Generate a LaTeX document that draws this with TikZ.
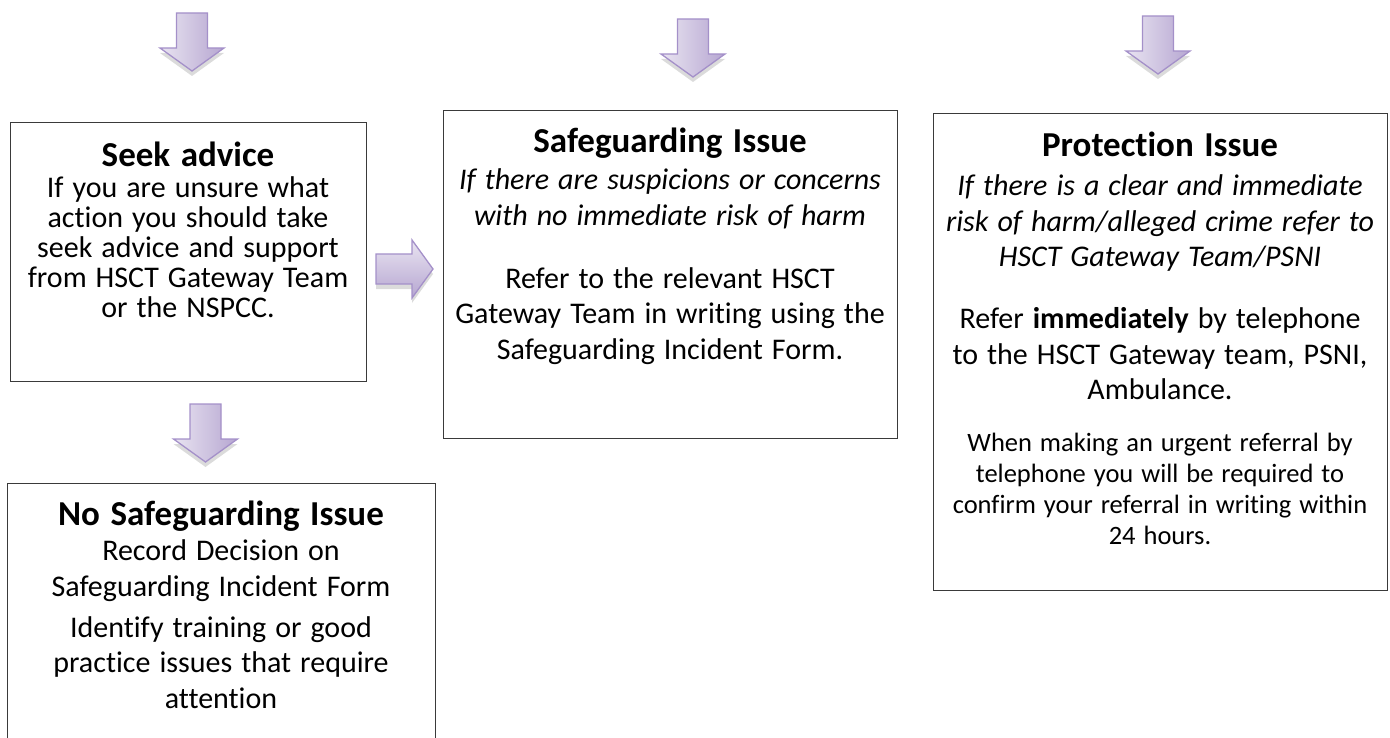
\documentclass[tikz,border=0pt]{standalone}
\usepackage{fontspec}
\setmainfont{Carlito}[Ligatures=NoCommon]
\usetikzlibrary{shadows}
\definecolor{arrA}{HTML}{E9E4F1}
\definecolor{arrB}{HTML}{B6A6D1}
\definecolor{arrline}{HTML}{A490C9}
\definecolor{boxline}{HTML}{3A3A3A}
\tikzset{
  boxstyle/.style={draw=boxline, line width=1.4pt, fill=white, inner sep=0pt, anchor=north west},
  arrowshadow/.style={drop shadow={shadow xshift=0pt, shadow yshift=-5pt, opacity=0.2, fill=black!70}},
  blockarrow/.style={draw=arrline, line width=1.3pt, left color=arrA, right color=arrB, arrowshadow},
  blockarrowR/.style={draw=arrline, line width=1.3pt, top color=arrA, bottom color=arrB, arrowshadow},
  txt/.style={anchor=base, inner sep=0pt, align=center, text width=#1},
  downarr/.pic={\path[blockarrow] (-15.5,0) -- (15.5,0) -- (15.5,35) -- (32,35) -- (0,58) -- (-32,35) -- (-15.5,35) -- cycle;}
}
\newcommand\wsp{\spaceskip=.3em\relax\xspaceskip=.3em\relax}
\newcommand\ttlfont{\fontsize{35}{36}\selectfont\bfseries\wsp}
\newcommand\bodyfont{\fontsize{30}{35.5}\selectfont\wsp}
\newcommand\tightfont{\fontsize{30}{30}\selectfont\wsp}
\newcommand\smallfont{\fontsize{26.5}{31}\selectfont\wsp}
\begin{document}
\begin{tikzpicture}[x=1pt,y=-1pt]
\useasboundingbox (0,0) rectangle (1390,738);
\clip (0,0) rectangle (1390,738);

% top arrows
\pic at (192,13) {downarr};
\pic at (693,19) {downarr};
\pic at (1158,16) {downarr};

% boxes
\node[boxstyle, minimum width=356pt, minimum height=259pt] (b1) at (10,122) {};
\node[boxstyle, minimum width=454pt, minimum height=328pt] (b2) at (443,110) {};
\node[boxstyle, minimum width=454pt, minimum height=477pt] (b3) at (933,113) {};
\node[boxstyle, minimum width=428pt, minimum height=290pt] (b4) at (7,483) {};

% connector arrows
\pic at (205.5,404) {downarr};
\path[blockarrowR] (376,254) -- (412,254) -- (412,240) -- (433,269) -- (412,298) -- (412,284) -- (376,284) -- cycle;

% texts
\node[txt=350pt] (t1) at (188,167) {{\ttlfont Seek advice\par}
  \tightfont\vspace{1pt}If you are unsure what\\action you should take\\seek advice and support\\from HSCT Gateway Team\\or the NSPCC.\par};

\node[txt=450pt] (t2) at (670,153) {{\ttlfont Safeguarding Issue\par}
  \bodyfont\vspace{1.5pt}\itshape\wsp If there are suspicions or concerns\\with no immediate risk of harm\par
  \vspace{27.5pt}\upshape\wsp Refer to the relevant HSCT\\Gateway Team in writing using the\\Safeguarding Incident Form.\par};

\node[txt=450pt] (t3) at (1160,157) {{\ttlfont Protection Issue\par}
  \bodyfont\vspace{3.5pt}\itshape\wsp If there is a clear and immediate\\risk of harm/alleged crime refer to\\HSCT Gateway Team/PSNI\par
  \vspace{26.5pt}\upshape\wsp Refer \textbf{immediately} by telephone\\to the HSCT Gateway team, PSNI,\\Ambulance.\par
  \smallfont\vspace{21pt}When making an urgent referral by\\telephone you will be required to\\confirm your referral in writing within\\24 hours.\par};

\node[txt=420pt] (t4) at (221,525) {{\ttlfont No Safeguarding Issue\par}
  \bodyfont Record Decision on\\Safeguarding Incident Form\par
  \vspace{5.5pt}Identify training or good\\practice issues that require\\attention\par};
\end{tikzpicture}
\end{document}
